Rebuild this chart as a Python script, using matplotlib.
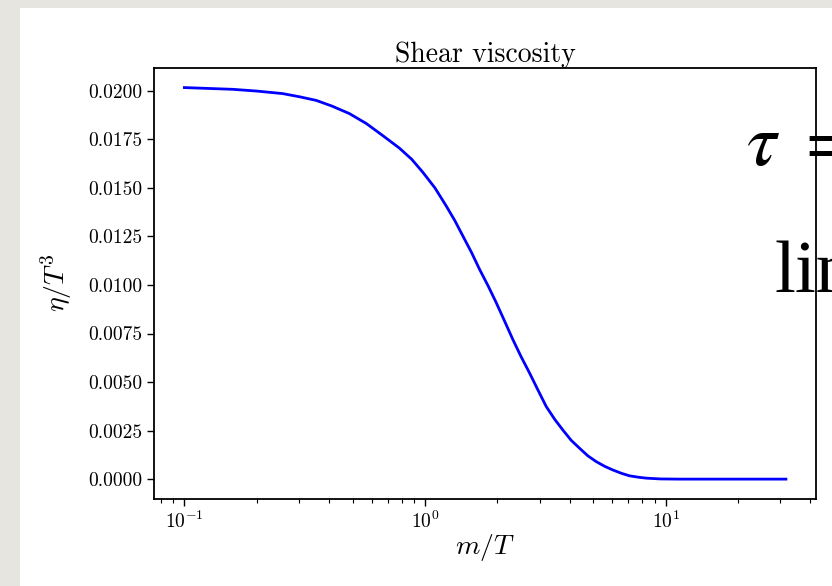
import matplotlib
matplotlib.use("Agg")
import matplotlib.pyplot as plt
from matplotlib.patches import Rectangle
from matplotlib.ticker import FormatStrFormatter

# Data
m_over_T = [0.100, 0.159, 0.200, 0.256, 0.300, 0.353, 0.410, 0.485, 0.570,
            0.667, 0.783, 0.880, 0.979, 1.10, 1.224, 1.33, 1.436, 1.56,
            1.685, 1.83, 1.977, 2.14, 2.318, 2.51, 2.719, 2.95, 3.19, 3.46,
            3.74, 4.05, 4.39, 4.75, 5.15, 5.58, 6.04, 6.55, 7.08, 7.68,
            8.31, 9.5, 11.4, 15.0, 20.0, 31.62]
eta_over_T3 = [0.02017, 0.02008, 0.01999, 0.01986, 0.01970, 0.01951, 0.01922,
               0.01883, 0.01832, 0.01770, 0.01705, 0.01648, 0.01581, 0.01500,
               0.01408, 0.01332, 0.01253, 0.01168, 0.01081, 0.00995, 0.00909,
               0.00815, 0.00719, 0.00630, 0.00547, 0.00458, 0.00374, 0.00308,
               0.00253, 0.00200, 0.00159, 0.00120, 0.00090, 0.00066, 0.00047,
               0.00030, 0.00017, 0.00010, 0.00005, 0.00001, 0.0, 0.0, 0.0, 0.0]
yticks = [0.0, 0.0025, 0.0050, 0.0075, 0.0100, 0.0125, 0.0150, 0.0175, 0.0200]

plt.rcParams['font.family'] = 'serif'
plt.rcParams['font.serif'] = ['cmr10', 'DejaVu Serif']
plt.rcParams['mathtext.fontset'] = 'cm'
plt.rcParams['axes.unicode_minus'] = False

W, H = 832, 586
fig = plt.figure(figsize=(W / 100, H / 100), dpi=100)
fig.patch.set_facecolor('#e7e5df')
fig.patches.append(Rectangle((20 / W, 0), 1, (H - 8) / H, transform=fig.transFigure,
                             facecolor='white', edgecolor='none', zorder=-3))

ax = fig.add_axes([154.3 / W, (H - 498.7) / H, (816 - 154.3) / W, (498.7 - 68) / H])
ax.set_facecolor('none')
ax.plot(m_over_T, eta_over_T3, color='blue', lw=2)
ax.set_xscale('log')
ax.set_yticks(yticks)
ax.yaxis.set_major_formatter(FormatStrFormatter('%.4f'))
ax.tick_params(axis='both', which='major', labelsize=14, length=5, width=1)
ax.tick_params(axis='both', which='minor', length=3, width=0.8)
for s in ax.spines.values():
    s.set_linewidth(1.3)
ax.set_title('Shear viscosity', fontsize=20, pad=3)
ax.set_xlabel(r'$m/T$', fontsize=20, labelpad=0)
ax.set_ylabel(r'$\eta/T^3$', fontsize=20, labelpad=10)

# Overlapping slide text (clipped by the figure edge)
fig.text(746 / W, 1 - 165 / H, r'$\tau\ =$', fontsize=54, math_fontfamily='stix',
         zorder=-1, ha='left', va='baseline')
fig.text(775 / W, 1 - 291.7 / H, 'lim', fontsize=54, family='Liberation Serif',
         zorder=-1, ha='left', va='baseline')

fig.savefig('out.png', dpi=100, facecolor=fig.get_facecolor())
